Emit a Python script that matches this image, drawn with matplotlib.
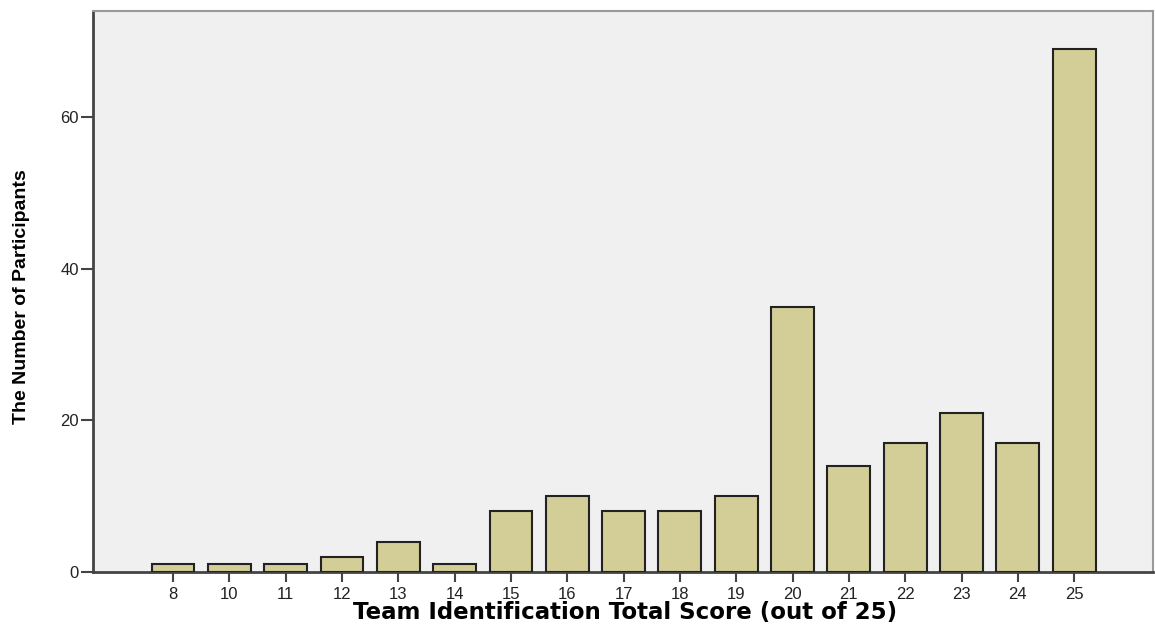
import matplotlib
matplotlib.use("Agg")
import matplotlib.pyplot as plt
import numpy as np

scores = ["8", "10", "11", "12", "13", "14", "15", "16", "17", "18", "19", "20", "21", "22", "23", "24", "25"]
counts = [1, 1, 1, 2, 4, 1, 8, 10, 8, 8, 10, 35, 14, 17, 21, 17, 69]
yticks = [0, 20, 40, 60]

fig = plt.figure(figsize=(11.55, 6.35), dpi=100)
ax = fig.add_axes([93/1155, 1-572/635, (1153-93)/1155, (572-11)/635])
ax.set_facecolor("#F0F0F0")
x = np.arange(len(scores))
ax.bar(x, counts, width=0.76, color="#D3CE97", edgecolor="#222222", linewidth=1.5, zorder=3)
ax.set_xlim(-1.42, 17.40)
ax.set_ylim(0, 74)
ax.set_xticks(x)
ax.set_xticklabels(scores, fontsize=12, family="Liberation Sans", color="#222222")
ax.set_yticks(yticks)
ax.set_yticklabels([str(v) for v in yticks], fontsize=12, family="Liberation Sans", color="#222222")
ax.tick_params(axis="x", direction="out", length=7, width=1.5, color="#444444", pad=4)
ax.tick_params(axis="y", direction="out", length=9, width=1.5, color="#444444", pad=1)
for s in ["left", "bottom"]:
    ax.spines[s].set_color("#444444")
    ax.spines[s].set_linewidth(2)
for s in ["top", "right"]:
    ax.spines[s].set_color("#999999")
    ax.spines[s].set_linewidth(1.5)

fig.text(625/1155, 1-612/635, "Team Identification Total Score (out of 25)", ha="center", va="center",
         fontsize=16.5, fontweight="bold", family="DejaVu Sans")
fig.text(22/1155, 1-297/635, "The Number of Participants", ha="center", va="center", rotation=90,
         fontsize=14, fontweight="bold", family=["Liberation Sans Narrow", "Liberation Sans"])

fig.savefig("out.png", dpi=100)
